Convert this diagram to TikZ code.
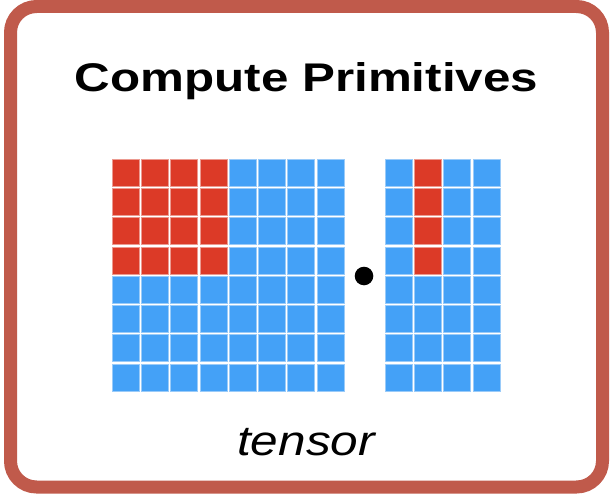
\documentclass[tikz,border=0pt]{standalone}
\usepackage{fontspec}
\usepackage{graphicx}
\setmainfont{Liberation Sans}
\definecolor{framered}{HTML}{C05A4B}
\definecolor{cellblue}{HTML}{44A1F7}
\definecolor{cellblueedge}{HTML}{9ACBF9}
\definecolor{cellred}{HTML}{DC3A27}
\definecolor{celllrededge}{HTML}{EC9A90}
\tikzset{
  frame/.style={draw=framered, line width=13pt, rounded corners=26pt, fill=white},
  bluecell/.style={fill=cellblue, draw=cellblueedge, line width=0.8pt},
  redcell/.style={fill=cellred, draw=celllrededge, line width=0.8pt},
  title/.style={inner sep=0pt, anchor=base, font=\bfseries\fontsize{40}{40}\selectfont},
  caption/.style={inner sep=0pt, anchor=base, font=\itshape\fontsize{42}{42}\selectfont},
}
\begin{document}
\begin{tikzpicture}[x=1pt, y=-1pt]
  \useasboundingbox (0,0) rectangle (610,495);
  % outer rounded frame
  \draw[frame] (10.5,6.5) rectangle (602.5,487);

  % heading
  \node[title] (head) at (306.5,91) {\scalebox{1.233}[1]{Compute Primitives}};

  % left operand: 8x8 grid, top-left 4x4 block highlighted
  \def\pitch{29.3}
  \def\cell{27}
  \foreach \r in {0,...,7}{
    \foreach \c in {0,...,7}{
      \pgfmathsetmacro{\xx}{112+\c*\pitch}
      \pgfmathsetmacro{\yy}{159+\r*\pitch}
      \ifnum\r<4 \ifnum\c<4
        \draw[redcell] (\xx,\yy) rectangle ++(\cell,\cell);
      \else
        \draw[bluecell] (\xx,\yy) rectangle ++(\cell,\cell);
      \fi \else
        \draw[bluecell] (\xx,\yy) rectangle ++(\cell,\cell);
      \fi
    }
  }

  % right operand: 8x4 grid, upper half of second column highlighted
  \foreach \r in {0,...,7}{
    \foreach \c in {0,...,3}{
      \pgfmathsetmacro{\xx}{385+\c*\pitch}
      \pgfmathsetmacro{\yy}{159+\r*\pitch}
      \ifnum\r<4 \ifnum\c=1
        \draw[redcell] (\xx,\yy) rectangle ++(\cell,\cell);
      \else
        \draw[bluecell] (\xx,\yy) rectangle ++(\cell,\cell);
      \fi \else
        \draw[bluecell] (\xx,\yy) rectangle ++(\cell,\cell);
      \fi
    }
  }

  % dot-product operator
  \fill[black] (364,276) circle (9.3);

  % label
  \node[caption] (lab) at (306,455) {\scalebox{1.18}[1]{tensor}};
\end{tikzpicture}
\end{document}
